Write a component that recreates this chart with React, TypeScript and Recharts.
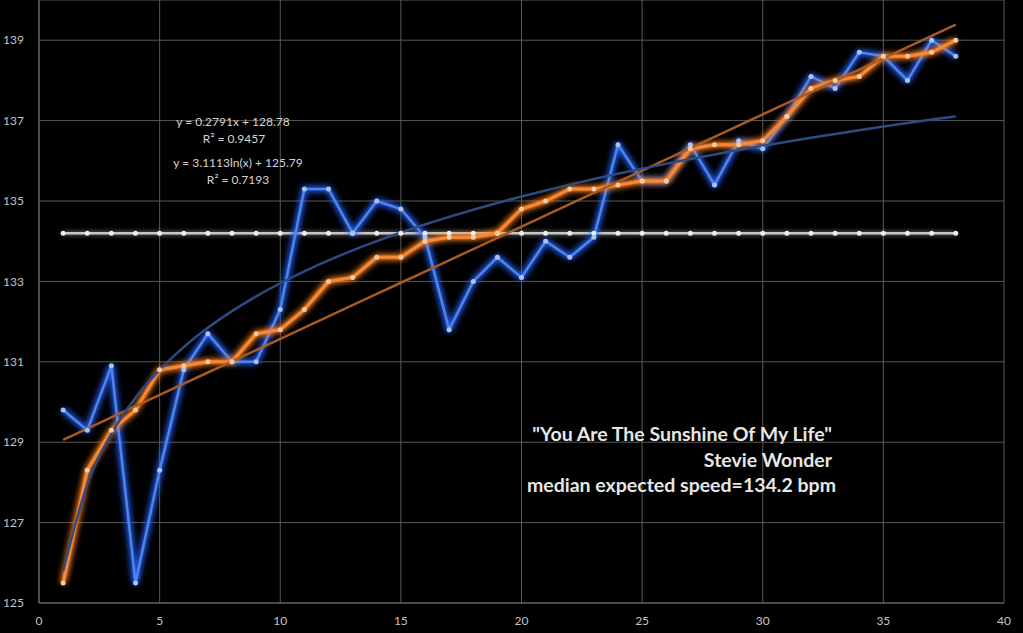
import { LineChart, Line, XAxis, YAxis, CartesianGrid } from "recharts"

// beat position (bar number) across the song
const positions = [
  1, 2, 3, 4, 5, 6, 7, 8, 9, 10, 11, 12, 13, 14, 15, 16, 17, 18, 19, 20,
  21, 22, 23, 24, 25, 26, 27, 28, 29, 30, 31, 32, 33, 34, 35, 36, 37, 38,
]

// measured tempo (bpm)
const tempo = [
  129.8, 129.3, 130.9, 125.5, 128.3, 130.8, 131.7, 131.0, 131.0, 132.3,
  135.3, 135.3, 134.2, 135.0, 134.8, 134.1, 131.8, 133.0, 133.6, 133.1,
  134.0, 133.6, 134.1, 136.4, 135.5, 135.5, 136.4, 135.4, 136.5, 136.3,
  137.1, 138.1, 137.8, 138.7, 138.6, 138.0, 139.0, 138.6,
]

// same tempos, sorted ascending
const tempoSorted = [
  125.5, 128.3, 129.3, 129.8, 130.8, 130.9, 131.0, 131.0, 131.7, 131.8,
  132.3, 133.0, 133.1, 133.6, 133.6, 134.0, 134.1, 134.1, 134.2, 134.8,
  135.0, 135.3, 135.3, 135.4, 135.5, 135.5, 136.3, 136.4, 136.4, 136.5,
  137.1, 137.8, 138.0, 138.1, 138.6, 138.6, 138.7, 139.0,
]

const medianSpeed = 134.2

// trendline coefficients as printed on the chart
const linearTrend = { slope: 0.2791, intercept: 128.78 }
const logTrend = { coef: 3.1113, intercept: 125.79 }

const xTicks = [0, 5, 10, 15, 20, 25, 30, 35, 40]
const yTicks = [125, 127, 129, 131, 133, 135, 137, 139]

const data = positions.map((x, i) => ({
  x,
  tempo: tempo[i],
  sorted: tempoSorted[i],
  median: medianSpeed,
  linear: linearTrend.slope * x + linearTrend.intercept,
  log: logTrend.coef * Math.log(x) + logTrend.intercept,
}))

const tickStyle = { fill: "#c4c4c4", fontSize: 12, fontFamily: "Lato" }

export default function App() {
  return (
    <div style={{ position: "absolute", left: 0, top: 0, width: 1023, height: 633, background: "#000" }}>
      <style>{`
        .glow-blue { filter: drop-shadow(0 0 3px #1f5cff) drop-shadow(0 0 2px #2a64ff); }
        .glow-orange { filter: drop-shadow(0 0 3px #ff7a10) drop-shadow(0 0 1.5px #ff8a20); }
        .glow-white { filter: drop-shadow(0 0 2.5px rgba(255,255,255,0.6)); }
      `}</style>
      <LineChart width={1023} height={633} data={data} margin={{ top: 0, right: 19, left: 0, bottom: 0 }}>
        <CartesianGrid stroke="#595959" strokeWidth={1} />
        <XAxis
          dataKey="x"
          type="number"
          domain={[0, 40]}
          ticks={xTicks}
          height={30}
          tickLine={false}
          tickSize={0}
          tickMargin={13}
          axisLine={{ stroke: "#6a6a6a" }}
          tick={tickStyle}
        />
        <YAxis
          type="number"
          domain={[125, 140]}
          ticks={yTicks}
          width={39}
          tickLine={false}
          tickSize={0}
          tickMargin={15}
          axisLine={{ stroke: "#6a6a6a" }}
          tick={tickStyle}
        />
        <Line
          className="glow-white"
          dataKey="median"
          stroke="#c8c8c8"
          strokeWidth={2.5}
          dot={{ r: 2.5, fill: "#eeeeee", stroke: "none" }}
          isAnimationActive={false}
        />
        <Line
          className="glow-blue"
          dataKey="tempo"
          stroke="#4f86e6"
          strokeWidth={2.5}
          dot={{ r: 2.5, fill: "#a8c4f5", stroke: "none" }}
          isAnimationActive={false}
        />
        <Line
          className="glow-orange"
          dataKey="sorted"
          stroke="#f5883a"
          strokeWidth={3}
          dot={{ r: 2.5, fill: "#f9c9a2", stroke: "none" }}
          isAnimationActive={false}
        />
        <Line
          dataKey="linear"
          stroke="#a85a24"
          strokeWidth={2.5}
          dot={false}
          isAnimationActive={false}
        />
        <Line
          type="monotone"
          dataKey="log"
          stroke="#2d4a82"
          strokeWidth={2.5}
          dot={false}
          isAnimationActive={false}
        />
        <g fontFamily="Lato" fill="#d4d4d4" fontSize={12} textAnchor="middle">
          <text x={233} y={126}>y = 0.2791x + 128.78</text>
          <text x={234} y={143}>R² = 0.9457</text>
          <text x={238} y={167}>y = 3.1113ln(x) + 125.79</text>
          <text x={238} y={184}>R² = 0.7193</text>
        </g>
        <g fontFamily="Lato" fontWeight="bold" fill="#e6e6e6" fontSize={19.5} textAnchor="end">
          <text x={832} y={441}>"You Are The Sunshine Of My Life"</text>
          <text x={832} y={467}>Stevie Wonder</text>
          <text x={836} y={492}>median expected speed=134.2 bpm</text>
        </g>
      </LineChart>
    </div>
  )
}
